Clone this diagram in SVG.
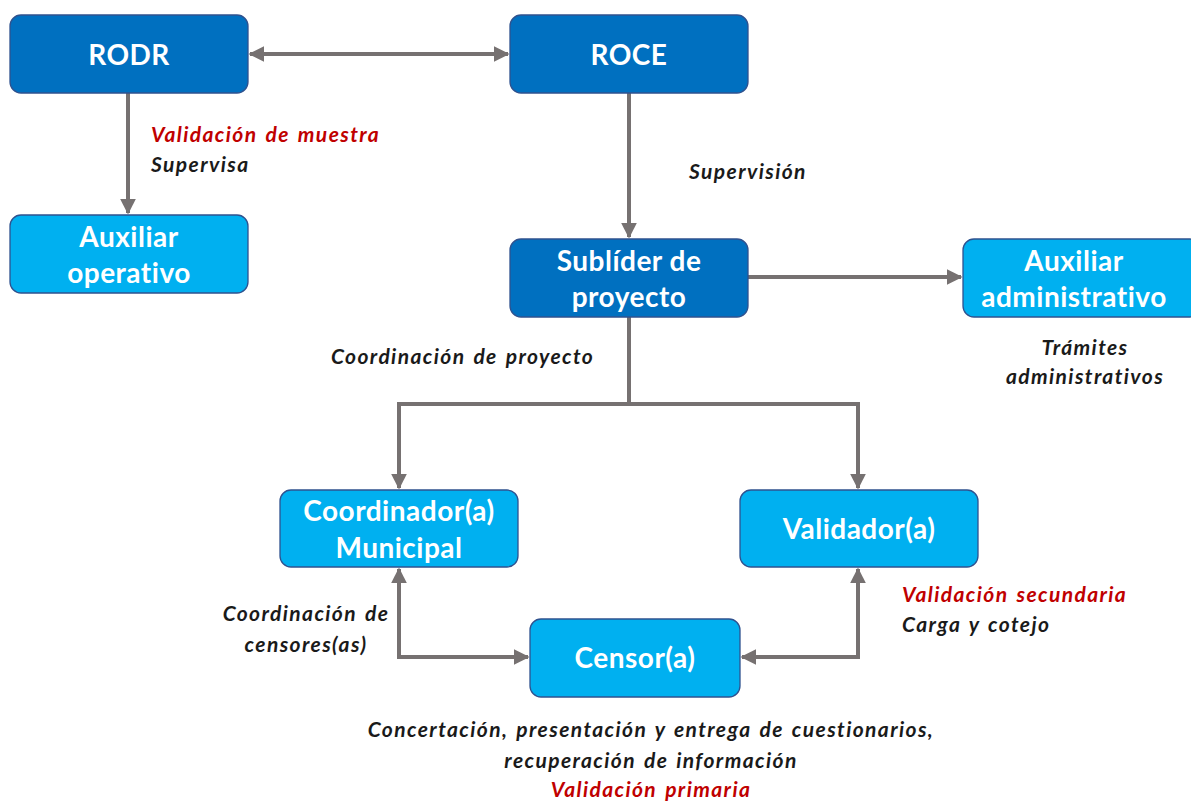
<svg xmlns="http://www.w3.org/2000/svg" width="1191" height="801" viewBox="0 0 1191 801">
<style>
.dk{fill:#0070C0;stroke:#2F528F;stroke-width:1.3}
.lt{fill:#00B0F0;stroke:#2F528F;stroke-width:1.3}
.nt{font-family:Lato,"Open Sans",sans-serif;font-weight:bold;font-size:28px;letter-spacing:0.5px;fill:#fff;text-anchor:middle}
.lb{font-family:Lato,"Open Sans",sans-serif;font-weight:bold;font-style:italic;font-size:21px;letter-spacing:1.4px;word-spacing:2px;fill:#1a1a1a}
.rd{fill:#C00000}
.cn{fill:none;stroke:#767171;stroke-width:4}
</style>
<defs>
<marker id="ah" viewBox="0 0 10 10" refX="9" refY="5" markerWidth="4" markerHeight="4" orient="auto-start-reverse" markerUnits="strokeWidth">
<path d="M0,0 L10,5 L0,10 z" fill="#767171"/>
</marker>
</defs>
<rect width="1191" height="801" fill="#fff"/>
<g id="connectors">
<path class="cn" d="M250,54 H508" marker-start="url(#ah)" marker-end="url(#ah)"/>
<path class="cn" d="M128,93 V213" marker-end="url(#ah)"/>
<path class="cn" d="M629,93 V237" marker-end="url(#ah)"/>
<path class="cn" d="M748,277 H961" marker-end="url(#ah)"/>
<path class="cn" d="M629,317 V404"/>
<path class="cn" d="M399,488 V404 H858 V488" marker-start="url(#ah)" marker-end="url(#ah)"/>
<path class="cn" d="M399,569 V657 H528" marker-start="url(#ah)" marker-end="url(#ah)"/>
<path class="cn" d="M858,569 V657 H742" marker-start="url(#ah)" marker-end="url(#ah)"/>
</g>
<g id="rodr"><rect class="dk" x="10" y="15" width="238" height="78" rx="11"/><text class="nt" x="129" y="65">RODR</text></g>
<g id="roce"><rect class="dk" x="510" y="15" width="238" height="78" rx="11"/><text class="nt" x="629" y="65">ROCE</text></g>
<g id="aux-operativo"><rect class="lt" x="10" y="215" width="238" height="78" rx="11"/><text class="nt" x="129" y="247">Auxiliar</text><text class="nt" x="129" y="283">operativo</text></g>
<g id="sublider"><rect class="dk" x="510" y="239" width="238" height="78" rx="11"/><text class="nt" x="629" y="271">Sublíder de</text><text class="nt" x="629" y="307">proyecto</text></g>
<g id="aux-admin"><rect class="lt" x="963" y="239" width="238" height="78" rx="11"/><text class="nt" x="1074" y="271">Auxiliar</text><text class="nt" x="1074" y="307">administrativo</text></g>
<g id="coordinador"><rect class="lt" x="280" y="490" width="238" height="77" rx="11"/><text class="nt" x="399" y="521">Coordinador(a)</text><text class="nt" x="399" y="558">Municipal</text></g>
<g id="validador"><rect class="lt" x="740" y="490" width="238" height="77" rx="11"/><text class="nt" x="859" y="539">Validador(a)</text></g>
<g id="censor"><rect class="lt" x="530" y="619" width="210" height="78" rx="11"/><text class="nt" x="635" y="668">Censor(a)</text></g>
<g id="labels">
<text class="lb rd" x="151" y="142">Validación de muestra</text>
<text class="lb" x="151" y="172">Supervisa</text>
<text class="lb" x="689" y="179">Supervisión</text>
<text class="lb" x="331" y="364">Coordinación de proyecto</text>
<text class="lb" x="1085" y="355" text-anchor="middle">Trámites</text>
<text class="lb" x="1085" y="384" text-anchor="middle">administrativos</text>
<text class="lb" x="306" y="621" text-anchor="middle">Coordinación de</text>
<text class="lb" x="306" y="652" text-anchor="middle">censores(as)</text>
<text class="lb rd" x="902" y="602">Validación secundaria</text>
<text class="lb" x="902" y="632">Carga y cotejo</text>
<text class="lb" x="651" y="737" text-anchor="middle">Concertación, presentación y entrega de cuestionarios,</text>
<text class="lb" x="651" y="768" text-anchor="middle">recuperación de información</text>
<text class="lb rd" x="651" y="797" text-anchor="middle">Validación primaria</text>
</g>
</svg>
